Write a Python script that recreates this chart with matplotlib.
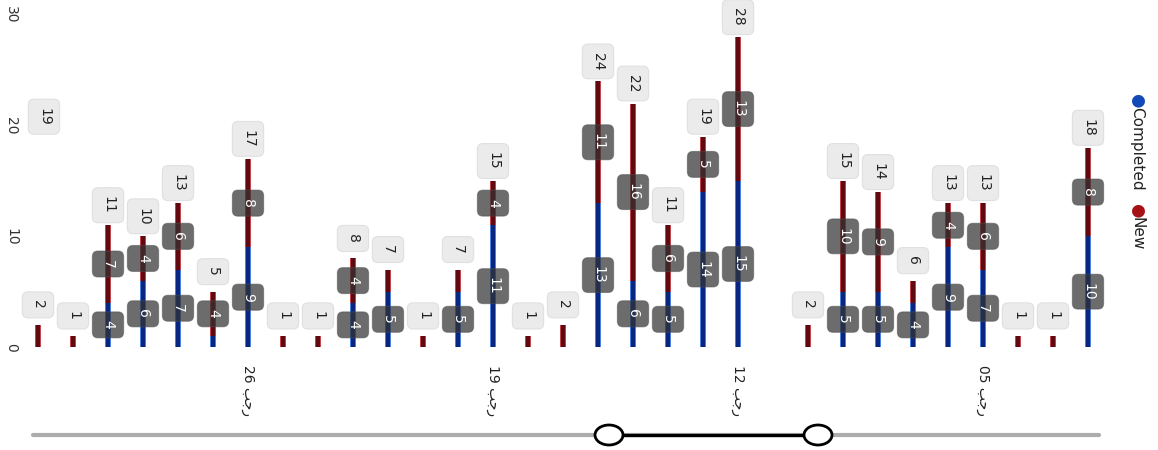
import matplotlib
matplotlib.use("Agg")
import matplotlib.pyplot as plt
from matplotlib.patches import Ellipse
import numpy as np

# daily counts, one slot per day (newest on the left)
completed = [0, 0, 4, 6, 7, 1, 9, 0, 0, 4, 5, 0, 5, 11, 0, 0,
             13, 6, 5, 14, 15, 0, 0, 5, 5, 4, 9, 7, 0, 0, 10]
new = [2, 1, 7, 4, 6, 4, 8, 1, 1, 4, 2, 1, 2, 4, 1, 2,
       11, 16, 6, 5, 13, 0, 2, 10, 9, 2, 4, 6, 1, 1, 8]
# total of the day just left of the visible window
edge_total = 19

tick_slots = [6, 13, 20, 27]
tick_days = ["26", "19", "12", "05"]
month = "\ufe90\ufe9f\ufead"   # rajab, shaped glyphs in visual order

blue_edge, blue_core = "#4a80e0", "#0a2580"
red_edge, red_core = "#c2454d", "#5e0a10"

W, H = 1158, 450
fig = plt.figure(figsize=(W / 100, H / 100), dpi=100)
plt.rcParams['font.family'] = ['DejaVu Sans']

left_px, right_px, bot_px, top_px = 28, 1110, 347, 15
ax = fig.add_axes([left_px / W, 1 - bot_px / H,
                   (right_px - left_px) / W, (bot_px - top_px) / H])

x = np.arange(len(completed))
comp = np.array(completed)
nw = np.array(new)
tot = comp + nw

# bars with light edges and a dark core
ax.bar(x, comp, width=0.18, color=blue_edge, zorder=2)
ax.bar(x, comp, width=0.105, color=blue_core, zorder=2.1)
ax.bar(x, nw, bottom=comp, width=0.18, color=red_edge, zorder=2)
ax.bar(x, nw, bottom=comp, width=0.105, color=red_core, zorder=2.1)

ax.set_xlim((left_px - 38) / 35, (right_px - 38) / 35)
ax.set_ylim(0, 30)

dark_box = dict(boxstyle="round,pad=0.62,rounding_size=0.4",
                fc=(0.2, 0.2, 0.2, 0.72), ec=(0.3, 0.3, 0.3, 0.5), lw=0.8)
light_box = dict(boxstyle="round,pad=0.62,rounding_size=0.4",
                 fc="#ebebeb", ec="#e0e0e0", lw=0.8)

# segment labels
for xi, c, n in zip(x, comp, nw):
    for val, base in ((c, 0), (n, c)):
        if val >= 3:
            ax.text(xi, base + val / 2, str(val), rotation=-90, ha="center",
                    va="center", color="white", fontsize=10, zorder=5,
                    bbox=dark_box)

# totals above each stack
for xi, t in zip(x, tot):
    if t > 0:
        ax.annotate(str(t), (xi, t), xytext=(0, 14.4), textcoords="offset points",
                    rotation=-90, ha="center", va="center", color="#222222",
                    fontsize=10, zorder=6, bbox=light_box)
ax.annotate(str(edge_total), (ax.get_xlim()[0], edge_total), xytext=(11.5, 14.4),
            textcoords="offset points", rotation=-90, ha="center", va="center",
            color="#222222", fontsize=10, zorder=6, bbox=light_box)

ax.set_xticks(tick_slots)
ax.set_xticklabels([d + " " + month for d in tick_days], rotation=-90,
                   fontsize=10, color="#222222")
ax.set_yticks([0, 10, 20, 30])
ax.set_yticklabels(["0", "10", "20", "30"], rotation=-90, fontsize=10,
                   color="#333333", va="center")
ax.tick_params(axis="x", length=0, pad=13)
ax.tick_params(axis="y", length=0, pad=7)
for s in ax.spines.values():
    s.set_visible(False)

# legend, written top to bottom
fig.text(1137 / W, 1 - 93 / H, "\u25cf", color="#1247b8", rotation=-90,
         ha="center", va="top", fontsize=12)
fig.text(1137 / W, 1 - 107 / H, "Completed", color="#222222", rotation=-90,
         ha="center", va="top", fontsize=11)
fig.text(1137 / W, 1 - 203 / H, "\u25cf", color="#a50f14", rotation=-90,
         ha="center", va="top", fontsize=12)
fig.text(1137 / W, 1 - 217 / H, "New", color="#222222", rotation=-90,
         ha="center", va="top", fontsize=11)

# range navigator
nav = fig.add_axes([0, 0, 1, 1], zorder=-1)
nav.set_xlim(0, W)
nav.set_ylim(H, 0)
nav.axis("off")
nav.plot([33, 1099], [435, 435], color="#acacac", lw=3, solid_capstyle="round")
nav.plot([609, 818], [435, 435], color="black", lw=2.4)
for hx in (609, 818):
    nav.add_patch(Ellipse((hx, 435), 28, 20, fc="white", ec="black", lw=2, zorder=3))

fig.savefig("out.png", dpi=100)
